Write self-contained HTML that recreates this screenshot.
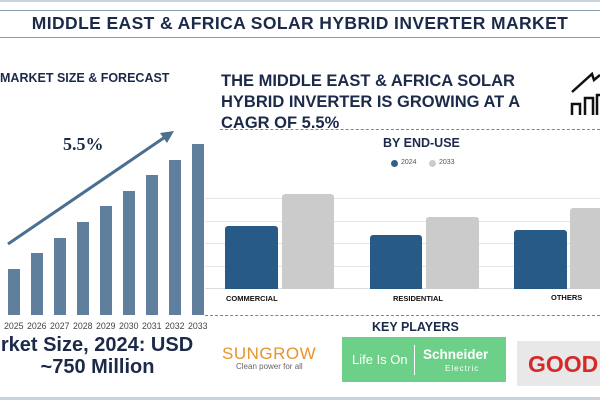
<!DOCTYPE html><html><head><style>
body{margin:0;width:600px;height:400px;background:#fff;position:relative;overflow:hidden;font-family:"Liberation Sans",sans-serif;color:#1c2a4a}
div,span{position:absolute}
.b{font-weight:bold}
.bar{background:#5f7f9c;width:12px}
.yr{font-size:8.8px;color:#444;top:321px}
</style></head><body>
<div style="left:0;top:0;width:600px;height:2px;background:#c7d3de"></div>
<div style="left:0;top:10px;width:600px;height:1px;background:#8a9aaa"></div>
<div style="left:0;top:37px;width:600px;height:1px;background:#8a9aaa"></div>
<div class="b" style="left:0;width:600px;top:13px;text-align:center;font-size:17.5px;letter-spacing:0.4px">MIDDLE EAST &amp; AFRICA SOLAR HYBRID INVERTER MARKET</div>
<div class="b" style="left:0;top:71px;font-size:12.5px">MARKET SIZE &amp; FORECAST</div>
<div class="b" style="left:63px;top:134px;font-size:18px;font-family:'Liberation Serif',serif">5.5%</div>
<svg style="position:absolute;left:0;top:0" width="600" height="400">
<line x1="8" y1="244" x2="168" y2="135" stroke="#4a6f8f" stroke-width="3"/>
<polygon points="174,131 160,133 167,143" fill="#4a6f8f"/>
<path d="M572 92 L592 74 L594 80 L600 75" stroke="#111" stroke-width="2.5" fill="none"/>
<path d="M572 115 L572 104 L580 104 L580 115 M585 115 L585 98 L593 98 L593 115 M597 115 L597 95 L600 95" stroke="#111" stroke-width="2.5" fill="none"/>
</svg>
<div class="bar" style="left:8px;top:269px;height:46px"></div>
<div class="bar" style="left:31px;top:253px;height:62px"></div>
<div class="bar" style="left:54px;top:238px;height:77px"></div>
<div class="bar" style="left:77px;top:222px;height:93px"></div>
<div class="bar" style="left:100px;top:206px;height:109px"></div>
<div class="bar" style="left:123px;top:191px;height:124px"></div>
<div class="bar" style="left:146px;top:175px;height:140px"></div>
<div class="bar" style="left:169px;top:160px;height:155px"></div>
<div class="bar" style="left:192px;top:144px;height:171px"></div>
<div class="yr" style="left:4px">2025</div><div class="yr" style="left:27px">2026</div><div class="yr" style="left:50px">2027</div><div class="yr" style="left:73px">2028</div><div class="yr" style="left:96px">2029</div><div class="yr" style="left:119px">2030</div><div class="yr" style="left:142px">2031</div><div class="yr" style="left:165px">2032</div><div class="yr" style="left:188px">2033</div>
<div class="b" style="left:-8px;top:334px;font-size:20px;width:210px;text-align:center;white-space:nowrap">rket Size, 2024: USD</div>
<div class="b" style="left:0;top:356px;font-size:20px;width:195px;text-align:center">~750 Million</div>
<div class="b" style="left:221px;top:71px;font-size:16.5px;line-height:21px;white-space:nowrap">THE MIDDLE EAST &amp; AFRICA SOLAR<br>HYBRID INVERTER IS GROWING AT A<br>CAGR OF 5.5%</div>
<div style="left:220px;top:129px;width:380px;border-top:1.5px dashed #6a8aa5"></div>
<div class="b" style="left:383px;top:136px;font-size:12.5px">BY END-USE</div>
<div style="left:391px;top:160px;width:7px;height:7px;border-radius:50%;background:#2f5f8a"></div>
<div style="left:401px;top:159px;font-size:7px;color:#555">2024</div>
<div style="left:429px;top:160px;width:7px;height:7px;border-radius:50%;background:#ccc"></div>
<div style="left:439px;top:159px;font-size:7px;color:#555">2033</div>
<div style="left:205px;top:198px;width:395px;height:1px;background:#e6e6e6"></div>
<div style="left:205px;top:221px;width:395px;height:1px;background:#e6e6e6"></div>
<div style="left:205px;top:243px;width:395px;height:1px;background:#e6e6e6"></div>
<div style="left:205px;top:266px;width:395px;height:1px;background:#e6e6e6"></div>
<div style="left:205px;top:288px;width:395px;height:1px;background:#ddd"></div>
<div style="left:225px;top:226px;width:53px;height:63px;background:#285a88;border-radius:3px 3px 0 0"></div>
<div style="left:282px;top:194px;width:52px;height:95px;background:#cbcbcb;border-radius:3px 3px 0 0"></div>
<div style="left:370px;top:235px;width:52px;height:54px;background:#285a88;border-radius:3px 3px 0 0"></div>
<div style="left:426px;top:217px;width:53px;height:72px;background:#cbcbcb;border-radius:3px 3px 0 0"></div>
<div style="left:514px;top:230px;width:53px;height:59px;background:#285a88;border-radius:3px 3px 0 0"></div>
<div style="left:570px;top:208px;width:40px;height:81px;background:#cbcbcb;border-radius:3px 3px 0 0"></div>
<div class="b" style="left:226px;top:294px;font-size:7.5px;color:#111">COMMERCIAL</div>
<div class="b" style="left:393px;top:294px;font-size:7.5px;color:#111">RESIDENTIAL</div>
<div class="b" style="left:551px;top:293px;font-size:7.5px;color:#111">OTHERS</div>
<div style="left:205px;top:315px;width:395px;border-top:1.5px dashed #6a8aa5"></div>
<div class="b" style="left:372px;top:320px;font-size:12.5px">KEY PLAYERS</div>
<div style="left:222px;top:344px;font-size:17px;color:#e8942a;letter-spacing:0.5px">SUNGROW</div>
<div style="left:236px;top:362px;font-size:8px;color:#666">Clean power for all</div>
<div style="left:342px;top:337px;width:164px;height:45px;background:#6dd088"></div>
<div style="left:352px;top:352px;font-size:13px;color:#fff">Life Is On</div>
<div style="left:414px;top:345px;width:1px;height:30px;background:#fff"></div>
<div class="b" style="left:423px;top:347px;font-size:13.5px;color:#fff">Schneider</div>
<div style="left:445px;top:364px;font-size:8px;color:#fff;letter-spacing:1px">Electric</div>
<div style="left:517px;top:341px;width:90px;height:45px;background:#e8e8e8"></div>
<div class="b" style="left:528px;top:351px;font-size:23px;color:#d42a2a">GOOD</div>
<div style="left:0;top:397px;width:600px;height:3px;background:#c7d3de"></div>
</body></html>
